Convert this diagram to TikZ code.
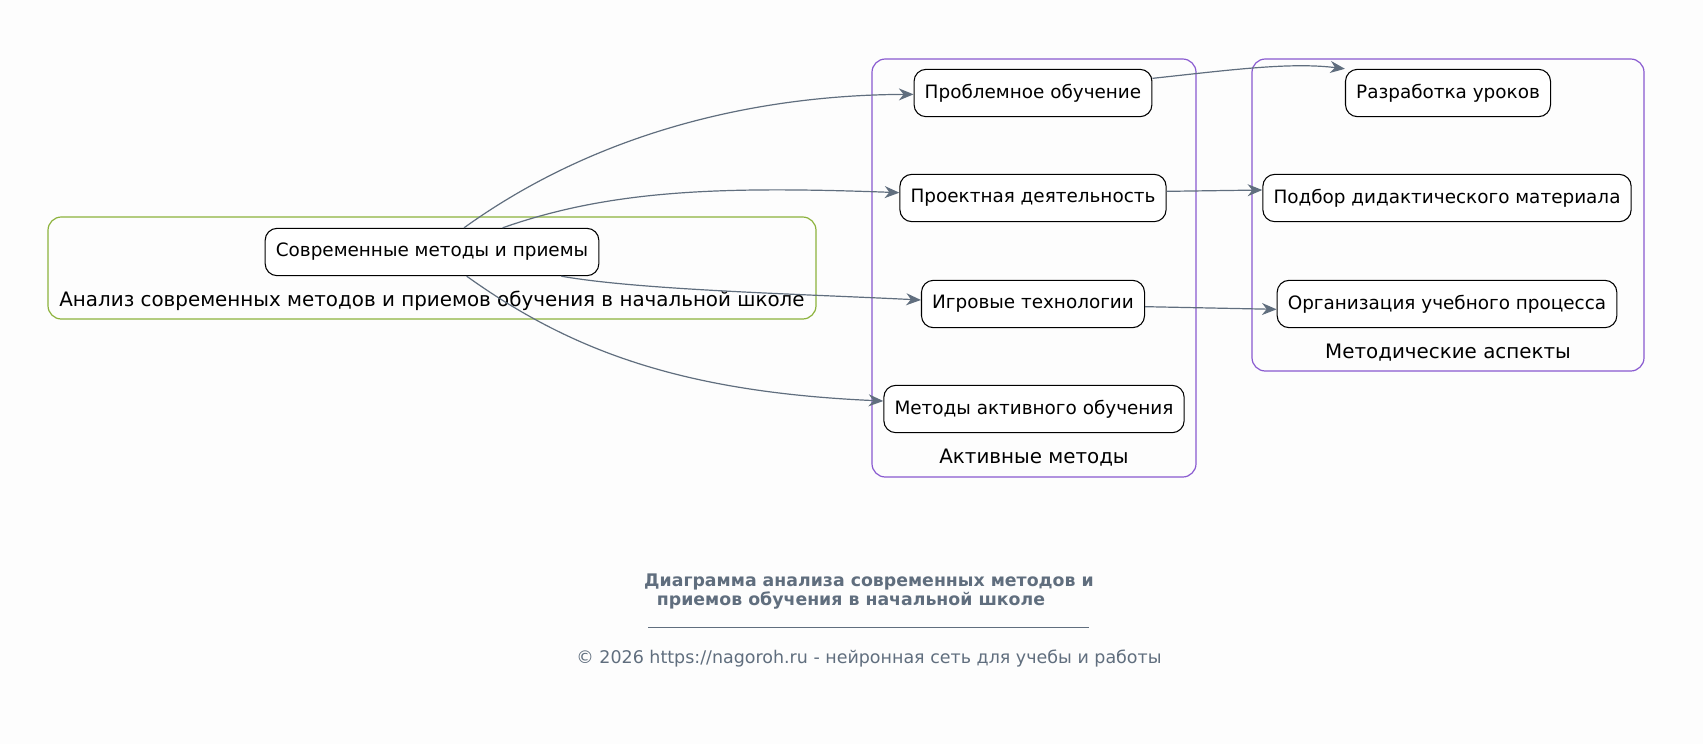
\documentclass[tikz,border=0pt]{standalone}
\usepackage{fontspec}
\setmainfont{DejaVu Sans}
\usetikzlibrary{arrows.meta}

\definecolor{edgegray}{RGB}{96,110,126}
\definecolor{clpurple}{RGB}{137,90,208}
\definecolor{clgreen}{RGB}{140,178,60}
\definecolor{bgpaper}{RGB}{253,253,253}

\tikzset{
  method/.style={draw=black, line width=0.8pt, rounded corners=9pt, fill=white,
    minimum height=35.5pt, inner xsep=8pt, font=\fontsize{13.8}{16}\selectfont},
  cluster/.style={line width=0.9pt, rounded corners=10pt},
  cltext/.style={font=\fontsize{14.9}{17}\selectfont},
  captext/.style={text=edgegray, font=\fontsize{13.1}{15}\selectfont},
  capbold/.style={text=edgegray, font=\bfseries\fontsize{13}{15}\selectfont},
  link/.style={draw=edgegray, line width=0.9pt,
    -{Stealth[length=11pt,width=9pt,inset=3.5pt]}},
}

\begin{document}
\begin{tikzpicture}[x=0.75pt,y=-0.75pt]
\useasboundingbox[fill=bgpaper] (0,0) rectangle (1703,744);

%clusters
\draw[cluster,clgreen]  (48,217) rectangle (816,319); %analysis
\draw[cluster,clpurple] (872,59) rectangle (1196,477); %active
\draw[cluster,clpurple] (1252,59) rectangle (1644,371); %aspects

\node[cltext] (lblanal) at (432,301) {Анализ современных методов и приемов обучения в начальной школе};
\node[cltext] (lblact)  at (1034,458) {Активные методы};
\node[cltext] (lblasp)  at (1448,353) {Методические аспекты};

%nodes
\node[method] (cur)  at (432,252) {Современные методы и приемы};

\node[method] (prob) at (1033,93)  {Проблемное обучение};
\node[method] (proj) at (1033,198) {Проектная деятельность};
\node[method] (game) at (1033,304) {Игровые технологии};
\node[method] (actv) at (1034,409) {Методы активного обучения};

\node[method] (razr) at (1448,93)  {Разработка уроков};
\node[method] (podb) at (1447,198) {Подбор дидактического материала};
\node[method] (orgn) at (1447,304) {Организация учебного процесса};

%links
\draw[link] ([xshift=24pt]cur.north) .. controls (600,130) and (760,95) .. ([yshift=-1pt]prob.west);
\draw[link] ([xshift=53pt]cur.north) .. controls (610,190) and (720,186) .. ([yshift=4pt]proj.west);
\draw[link] ([xshift=97pt]cur.south) .. controls (640,290) and (800,294) .. ([yshift=3pt]game.west);
\draw[link] ([xshift=26pt]cur.south) .. controls (570,350) and (680,392) .. ([yshift=6pt]actv.west);

\draw[link] ([yshift=11pt]prob.east) .. controls (1230,70) and (1290,62) .. (razr.north west);
\draw[link] ([yshift=5pt]proj.east) -- ([yshift=6pt]podb.west);
\draw[link] ([yshift=-2pt]game.east) -- ([yshift=-4pt]orgn.west);

%caption
\node[capbold] (capa) at (869,582) {Диаграмма анализа современных методов и};
\node[capbold] (capb) at (851,600) {приемов обучения в начальной школе};
\draw[edgegray, line width=0.6pt] (648,627) -- (1089,627);
\node[captext] (copy) at (869,659) {© 2026 https://nagoroh.ru - нейронная сеть для учебы и работы};
\end{tikzpicture}
\end{document}
